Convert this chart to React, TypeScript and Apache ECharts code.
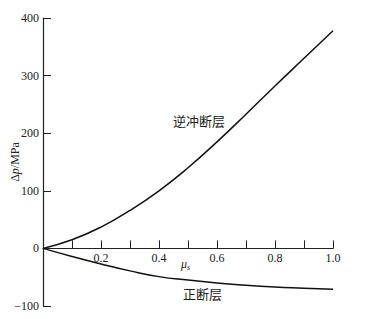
import React, { useEffect, useRef } from "react";
import * as echarts from "echarts";

const muValues = [0, 0.1, 0.2, 0.3, 0.4, 0.5, 0.6, 0.7, 0.8, 0.9, 1.0];
const thrustValues = [0, 15, 37, 66, 100, 140, 185, 233, 282, 330, 378];
const normalValues = [0, -14, -27, -39, -49, -55, -60, -64, -67, -69, -71];
const xLabelsShown = ["0.2", "0.4", "0.6", "0.8", "1.0"];
const thrustLabel = "逆冲断层";
const normalLabel = "正断层";

const FONT = "'Liberation Serif', 'Times New Roman', serif";
const CJK = "'Noto Sans CJK SC', 'Liberation Serif', serif";

const Y_MIN = -100;
const Y_MAX = 400;
const GRID_TOP = 18;
const GRID_BOTTOM = 13;
const H = 319;

export default function App() {
  const ref = useRef<HTMLDivElement>(null);
  useEffect(() => {
    if (!ref.current) return;
    const chart = echarts.init(ref.current, undefined, { renderer: "svg" });
    const plotH = H - GRID_TOP - GRID_BOTTOM;
    const zeroOffset = -plotH * (0 - Y_MIN) / (Y_MAX - Y_MIN);
    chart.setOption({
      animation: false,
      backgroundColor: "#fff",
      grid: { left: 43, right: 39, top: GRID_TOP, bottom: GRID_BOTTOM, containLabel: false, outerBoundsMode: "none" },
      xAxis: {
        type: "value",
        min: 0,
        max: 1,
        interval: 0.1,
        offset: zeroOffset,
        axisLine: { onZero: false, lineStyle: { color: "#222", width: 1.2 } },
        axisTick: { inside: true, length: 8, lineStyle: { color: "#222" } },
        splitLine: { show: false },
        axisLabel: {
          margin: 4,
          color: "#222",
          fontFamily: FONT,
          fontSize: 12,
          formatter: (v: number) => {
            const s = v.toFixed(1);
            return xLabelsShown.includes(s) ? s : "";
          },
        },
      },
      yAxis: {
        type: "value",
        min: Y_MIN,
        max: Y_MAX,
        interval: 100,
        axisLine: { show: true, lineStyle: { color: "#222", width: 1.2 } },
        axisTick: { show: true, inside: true, length: 8, lineStyle: { color: "#222" } },
        splitLine: { show: false },
        axisLabel: {
          margin: 4,
          color: "#222",
          fontFamily: FONT,
          fontSize: 12,
          formatter: (v: number) => String(v).replace("-", "−"),
        },
        name: "{d|Δ}{p|p}{d|/MPa}",
        nameLocation: "middle",
        nameRotate: 90,
        nameGap: 22,
        nameMoveOverlap: false,
        nameTextStyle: {
          rich: {
            d: { fontFamily: FONT, fontSize: 12, color: "#222" },
            p: { fontFamily: FONT, fontSize: 12, fontStyle: "italic", color: "#222" },
          },
        },
      },
      graphic: [
        {
          type: "text",
          left: 181,
          top: 258,
          style: {
            text: "{m|μ}{s|s}",
            rich: {
              m: { fontFamily: FONT, fontSize: 12, fontStyle: "italic", fill: "#222" },
              s: { fontFamily: FONT, fontSize: 8, fontStyle: "italic", fill: "#222", padding: [6, 0, 0, 0] },
            },
          },
        },
        {
          type: "text",
          left: 173,
          top: 114,
          style: { text: thrustLabel, font: `13px ${CJK}`, fill: "#222" },
        },
        {
          type: "text",
          left: 183,
          top: 287,
          style: { text: normalLabel, font: `13px ${CJK}`, fill: "#222" },
        },
      ],
      series: [
        {
          type: "line",
          data: muValues.map((m, i) => [m, thrustValues[i]]),
          smooth: true,
          symbol: "none",
          lineStyle: { color: "#111", width: 1.5 },
        },
        {
          type: "line",
          data: muValues.map((m, i) => [m, normalValues[i]]),
          smooth: true,
          symbol: "none",
          lineStyle: { color: "#111", width: 1.5 },
        },
      ],
    });
    return () => chart.dispose();
  }, []);
  return <div ref={ref} style={{ width: 372, height: 319, position: "absolute", left: 0, top: 0 }} />;
}
